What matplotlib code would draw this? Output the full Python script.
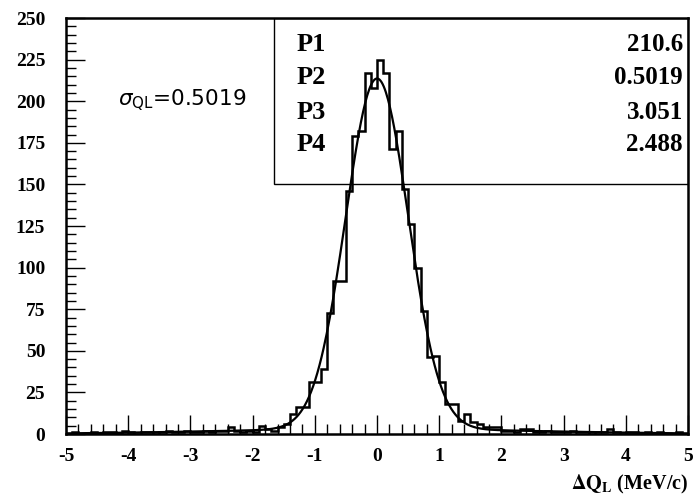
import numpy as np
import matplotlib.pyplot as plt
from matplotlib.patches import Rectangle
from matplotlib.ticker import MultipleLocator

plt.rcParams['mathtext.fontset'] = 'stix'
plt.rcParams['axes.unicode_minus'] = False

# histogram: 100 bins of 0.1 from -5 to 5 (counts)
bin_edges = np.linspace(-5, 5, 101)
counts = [
    0, 1, 0, 0, 1, 0, 1, 1, 0, 2,
    1, 0, 1, 1, 0, 1, 2, 1, 1, 2,
    1, 1, 2, 1, 2, 2, 4, 2, 1, 2,
    1, 5, 3, 2, 4, 6, 12, 16, 16, 31,
    31, 39, 73, 92, 92, 146, 179, 182, 217, 208,
    225, 217, 171, 182, 147, 126, 100, 74, 46, 47,
    31, 18, 18, 8, 12, 7, 6, 4, 4, 4,
    2, 2, 1, 3, 3, 1, 1, 2, 1, 1,
    1, 2, 1, 1, 0, 1, 1, 3, 1, 0,
    1, 1, 0, 1, 0, 1, 0, 0, 1, 0,
]

# fit parameters
par_names = ['P1', 'P2', 'P3', 'P4']
par_values = [210.6, 0.5019, 3.051, 2.488]
par_text = ['210.6', '0.5019', '3.051', '2.488']

fig = plt.figure(figsize=(6.95, 5.01), dpi=100)
ax = fig.add_axes([0.095, 0.1337, 0.895, 0.8303])

ax.stairs(counts, bin_edges, color='black', lw=1.8)

p1, p2, p3, p4 = par_values
xf = np.linspace(-5, 5, 600)
yf = p1 * np.exp(-0.5 * (xf / p2) ** 2) + p3 * np.exp(-0.5 * (xf / p4) ** 2)
ax.plot(xf, yf, color='black', lw=1.6)

ax.set_xlim(-5, 5)
ax.set_ylim(0, 250)
ax.xaxis.set_major_locator(MultipleLocator(1))
ax.xaxis.set_minor_locator(MultipleLocator(0.2))
ax.yaxis.set_major_locator(MultipleLocator(25))
ax.yaxis.set_minor_locator(MultipleLocator(5))
ax.tick_params(which='both', direction='in', top=False, right=False, width=1, color='black')
ax.tick_params(which='major', length=14)
ax.tick_params(which='minor', length=7)
ax.tick_params(axis='x', pad=10)
ax.tick_params(axis='y', pad=15)
for lab in ax.get_xticklabels() + ax.get_yticklabels():
    lab.set_fontfamily('Liberation Serif')
    lab.set_fontweight('bold')
    lab.set_fontsize(14)
for s in ax.spines.values():
    s.set_linewidth(1.8)

ax.set_xlabel(r'$\mathbf{\Delta Q_L}$ (MeV/c)', fontfamily='Liberation Serif',
              fontweight='bold', fontsize=14.5, loc='right', labelpad=6)

# stats box
ax.add_patch(Rectangle((0.334, 0.601), 0.666, 0.399, transform=ax.transAxes,
                       fill=False, lw=1.0, color='black', zorder=5))
row_y = [0.9375, 0.856, 0.774, 0.695]
for name, txt, yy in zip(par_names, par_text, row_y):
    ax.text(0.37, yy, name, transform=ax.transAxes, ha='left', va='center',
            fontfamily='Liberation Serif', fontweight='bold', fontsize=19)
    ax.text(0.992, yy, txt, transform=ax.transAxes, ha='right', va='center',
            fontfamily='Liberation Serif', fontweight='bold', fontsize=18)

ax.text(0.0836, 0.803, r'$\sigma_{\mathsf{QL}}$=0.5019', transform=ax.transAxes,
        ha='left', va='center', fontfamily='DejaVu Sans', fontsize=15.5,
        math_fontfamily='dejavusans')

fig.savefig('out.png', dpi=100)
